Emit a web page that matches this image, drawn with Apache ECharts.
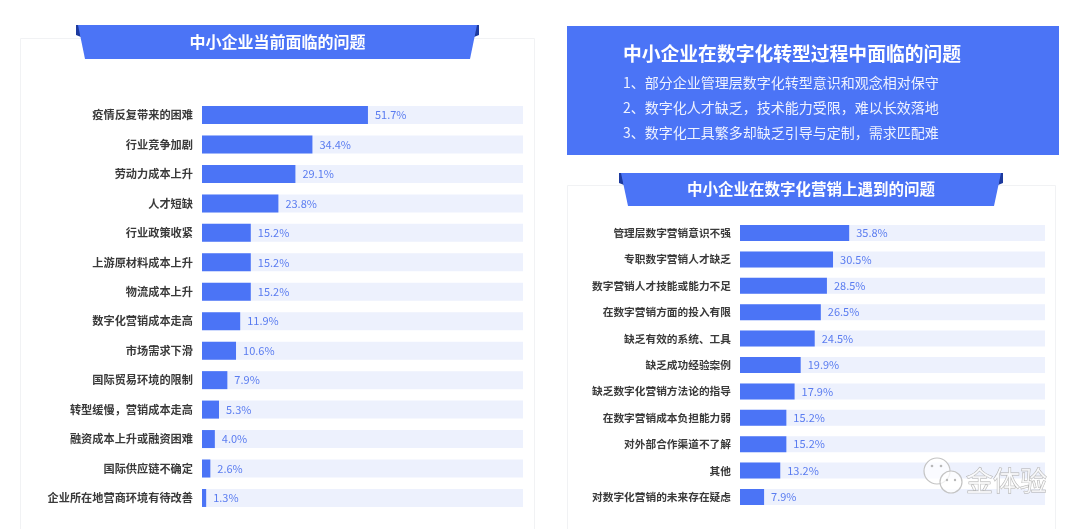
<!DOCTYPE html>
<html>
<head>
<meta charset="utf-8">
<script src="https://cdn.jsdelivr.net/npm/echarts@6/dist/echarts.min.js"></script>
<style>
html,body{margin:0;padding:0;background:#fff;}
#c{width:1080px;height:529px;}
</style>
</head>
<body>
<div id="c"></div>
<script>
const leftTitle = '中小企业当前面临的问题';
const leftCats = ['疫情反复带来的困难','行业竞争加剧','劳动力成本上升','人才短缺','行业政策收紧','上游原材料成本上升','物流成本上升','数字化营销成本走高','市场需求下滑','国际贸易环境的限制','转型缓慢，营销成本走高','融资成本上升或融资困难','国际供应链不确定','企业所在地营商环境有待改善'];
const leftVals = [51.7,34.4,29.1,23.8,15.2,15.2,15.2,11.9,10.6,7.9,5.3,4.0,2.6,1.3];

const rightTitle = '中小企业在数字化营销上遇到的问题';
const rightCats = ['管理层数字营销意识不强','专职数字营销人才缺乏','数字营销人才技能或能力不足','在数字营销方面的投入有限','缺乏有效的系统、工具','缺乏成功经验案例','缺乏数字化营销方法论的指导','在数字营销成本负担能力弱','对外部合作渠道不了解','其他','对数字化营销的未来存在疑虑'];
const rightVals = [35.8,30.5,28.5,26.5,24.5,19.9,17.9,15.2,15.2,13.2,7.9];

const boxTitle = '中小企业在数字化转型过程中面临的问题';
const boxLines = ['1、部分企业管理层数字化转型意识和观念相对保守','2、数字化人才缺乏，技术能力受限，难以长效落地','3、数字化工具繁多却缺乏引导与定制，需求匹配难'];

const FONT = '"Noto Sans CJK SC", "Noto Sans", sans-serif';
const BLUE = '#4b74f6';
const DARK = '#1d3a9e';
const BG = '#edf1fd';
const LBL = '#5a7cf0';

const chart = echarts.init(document.getElementById('c'));

function ribbon(x1, x2, y1, y2, inset, title, fs) {
  return [
    {type:'polygon', z:5, shape:{points:[[x1-1,y1],[x1+2,y1],[x1+4,y1+12],[x1-1,y1+10]]}, style:{fill:DARK}},
    {type:'polygon', z:5, shape:{points:[[x2+1,y1],[x2-2,y1],[x2-4,y1+12],[x2+1,y1+10]]}, style:{fill:DARK}},
    {type:'polygon', z:6, shape:{points:[[x1+1,y1],[x2-1,y1],[x2-inset,y2],[x1+inset,y2]]}, style:{fill:BLUE}},
    {type:'text', z:7, x:(x1+x2)/2, y:(y1+y2)/2, style:{text:title, fill:'#fff', font:'bold '+fs+'px '+FONT, align:'center', verticalAlign:'middle'}}
  ];
}

const graphics = [
  {type:'rect', z:-10, shape:{x:20.5, y:38.5, width:514, height:500}, style:{fill:'#fff', stroke:'#f1f2f4', lineWidth:1}},
  {type:'rect', z:-10, shape:{x:567.5, y:185.5, width:488, height:360}, style:{fill:'#fff', stroke:'#f1f2f4', lineWidth:1}},
  {type:'rect', z:1, shape:{x:567, y:26, width:492, height:129}, style:{fill:BLUE}},
  {type:'text', z:7, x:623, y:54, style:{text:boxTitle, fill:'#fff', font:'bold 18.8px '+FONT, verticalAlign:'middle'}},
  ...boxLines.map((t,i)=>({type:'text', z:7, x:623, y:83+i*25, style:{text:t, fill:'#eef2ff', font:'14px '+FONT, verticalAlign:'middle'}})),
  ...ribbon(77, 478, 25, 59, 8, leftTitle, 16),
  ...ribbon(620, 1002, 173, 206, 8, rightTitle, 15.5),
  // watermark
  {type:'circle', z:20, shape:{cx:937, cy:471, r:13}, style:{fill:'rgba(255,255,255,0.7)', stroke:'#c4c4c4', lineWidth:1.2}},
  {type:'circle', z:21, shape:{cx:951, cy:482, r:11}, style:{fill:'rgba(255,255,255,0.75)', stroke:'#c4c4c4', lineWidth:1.2}},
  {type:'circle', z:22, shape:{cx:932, cy:466, r:1.3}, style:{fill:'#b8b8b8'}},
  {type:'circle', z:22, shape:{cx:941, cy:466, r:1.3}, style:{fill:'#b8b8b8'}},
  {type:'circle', z:22, shape:{cx:947, cy:480, r:1.2}, style:{fill:'#b8b8b8'}},
  {type:'circle', z:22, shape:{cx:955, cy:480, r:1.2}, style:{fill:'#b8b8b8'}},
  {type:'text', z:22, x:966, y:481, style:{text:'金体验', fill:'rgba(255,255,255,0.75)', stroke:'#adadad', lineWidth:0.9, font:'27px '+FONT, verticalAlign:'middle'}}
];

function yAxis(idx, cats, fs) {
  return {type:'category', gridIndex:idx, data:cats, inverse:true, z:10,
    axisLine:{show:false}, axisTick:{show:false}, splitLine:{show:false},
    axisLabel:{color:'#3a3a3a', fontSize:fs, fontWeight:'bold', fontFamily:FONT, margin:9}};
}
function xAxis(idx) {
  return {type:'value', gridIndex:idx, min:0, max:100, show:false};
}
function series(idx, vals, bw) {
  return {type:'bar', xAxisIndex:idx, yAxisIndex:idx, data:vals, barWidth:bw, z:5,
    showBackground:true, backgroundStyle:{color:BG},
    itemStyle:{color:BLUE},
    label:{show:true, position:'right', distance:7, color:LBL, fontSize:11, fontFamily:FONT,
      formatter:p=>p.value.toFixed(1)+'%'},
    silent:true, animation:false};
}

chart.setOption({
  animation:false,
  grid:[
    {left:202, top:100.3, width:321, height:412.4},
    {left:740, top:219.8, width:305, height:290.4}
  ],
  xAxis:[xAxis(0), xAxis(1)],
  yAxis:[yAxis(0, leftCats, 11.2), yAxis(1, rightCats, 10.7)],
  series:[series(0, leftVals, 18), series(1, rightVals, 16)],
  graphic:graphics
});
</script>
</body>
</html>
